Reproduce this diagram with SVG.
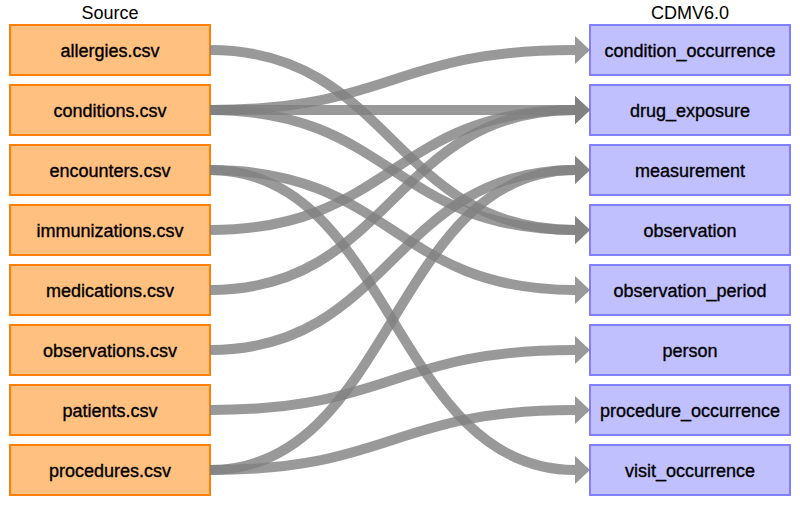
<svg xmlns="http://www.w3.org/2000/svg" width="800" height="505" viewBox="0 0 800 505">
<style>
.hdr{font-family:"Liberation Sans",Arial,sans-serif;font-size:18px;fill:#000;text-anchor:middle}
.lbl{font-family:"Liberation Sans",Arial,sans-serif;font-size:18px;fill:#000;stroke:#000;stroke-width:0.35;text-anchor:middle}
.src rect{fill:#ffc080;stroke:#ff8000;stroke-width:2}
.tgt rect{fill:#c0c0ff;stroke:#8080ff;stroke-width:2}
.conn path{fill:none;stroke:#808080;stroke-opacity:0.8;stroke-width:10;marker-end:url(#ah)}
</style>
<defs>
<marker id="ah" markerUnits="userSpaceOnUse" markerWidth="16" markerHeight="30" viewBox="0 -15 16 30" refX="0" refY="0" orient="auto" overflow="visible">
<path d="M0,-14 L15,0 L0,14 Z" fill="#808080" fill-opacity="0.8"/>
</marker>
</defs>
<rect width="800" height="505" fill="#fff"/>
<text class="hdr" x="110" y="19">Source</text>
<text class="hdr" x="690" y="19">CDMV6.0</text>
<g id="src-allergies" class="src"><rect x="10" y="25" width="200" height="50"/><text class="lbl" x="110" y="57">allergies.csv</text></g>
<g id="src-conditions" class="src"><rect x="10" y="85" width="200" height="50"/><text class="lbl" x="110" y="117">conditions.csv</text></g>
<g id="src-encounters" class="src"><rect x="10" y="145" width="200" height="50"/><text class="lbl" x="110" y="177">encounters.csv</text></g>
<g id="src-immunizations" class="src"><rect x="10" y="205" width="200" height="50"/><text class="lbl" x="110" y="237">immunizations.csv</text></g>
<g id="src-medications" class="src"><rect x="10" y="265" width="200" height="50"/><text class="lbl" x="110" y="297">medications.csv</text></g>
<g id="src-observations" class="src"><rect x="10" y="325" width="200" height="50"/><text class="lbl" x="110" y="357">observations.csv</text></g>
<g id="src-patients" class="src"><rect x="10" y="385" width="200" height="50"/><text class="lbl" x="110" y="417">patients.csv</text></g>
<g id="src-procedures" class="src"><rect x="10" y="445" width="200" height="50"/><text class="lbl" x="110" y="477">procedures.csv</text></g>
<g id="tgt-condition_occurrence" class="tgt"><rect x="590" y="25" width="200" height="50"/><text class="lbl" x="690" y="57">condition_occurrence</text></g>
<g id="tgt-drug_exposure" class="tgt"><rect x="590" y="85" width="200" height="50"/><text class="lbl" x="690" y="117">drug_exposure</text></g>
<g id="tgt-measurement" class="tgt"><rect x="590" y="145" width="200" height="50"/><text class="lbl" x="690" y="177">measurement</text></g>
<g id="tgt-observation" class="tgt"><rect x="590" y="205" width="200" height="50"/><text class="lbl" x="690" y="237">observation</text></g>
<g id="tgt-observation_period" class="tgt"><rect x="590" y="265" width="200" height="50"/><text class="lbl" x="690" y="297">observation_period</text></g>
<g id="tgt-person" class="tgt"><rect x="590" y="325" width="200" height="50"/><text class="lbl" x="690" y="357">person</text></g>
<g id="tgt-procedure_occurrence" class="tgt"><rect x="590" y="385" width="200" height="50"/><text class="lbl" x="690" y="417">procedure_occurrence</text></g>
<g id="tgt-visit_occurrence" class="tgt"><rect x="590" y="445" width="200" height="50"/><text class="lbl" x="690" y="477">visit_occurrence</text></g>
<g id="connectors" class="conn">
<path d="M210,50 C392.5,50 392.5,230 575,230"/>
<path d="M210,110 C392.5,110 392.5,50 575,50"/>
<path d="M210,110 C392.5,110 392.5,110 575,110"/>
<path d="M210,110 C392.5,110 392.5,230 575,230"/>
<path d="M210,170 C392.5,170 392.5,290 575,290"/>
<path d="M210,170 C392.5,170 392.5,470 575,470"/>
<path d="M210,230 C392.5,230 392.5,110 575,110"/>
<path d="M210,290 C392.5,290 392.5,110 575,110"/>
<path d="M210,350 C392.5,350 392.5,170 575,170"/>
<path d="M210,410 C392.5,410 392.5,350 575,350"/>
<path d="M210,470 C392.5,470 392.5,410 575,410"/>
<path d="M210,470 C392.5,470 392.5,170 575,170"/>
</g>
</svg>
